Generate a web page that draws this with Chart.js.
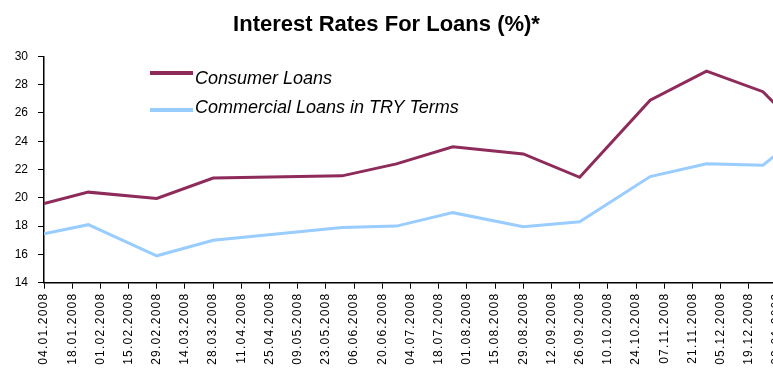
<!DOCTYPE html>
<html>
<head>
<meta charset="utf-8">
<script src="https://cdn.jsdelivr.net/npm/chart.js@4/dist/chart.umd.min.js"></script>
<style>
  html, body { margin: 0; padding: 0; background: #fff; overflow: hidden; }
  canvas { display: block; }
</style>
</head>
<body>
<canvas id="rates" width="773" height="368"></canvas>
<script>
// Fortnightly axis labels
const tickDates = [
  '04.01.2008', '18.01.2008', '01.02.2008', '15.02.2008', '29.02.2008', '14.03.2008',
  '28.03.2008', '11.04.2008', '25.04.2008', '09.05.2008', '23.05.2008', '06.06.2008',
  '20.06.2008', '04.07.2008', '18.07.2008', '01.08.2008', '15.08.2008', '29.08.2008',
  '12.09.2008', '26.09.2008', '10.10.2008', '24.10.2008', '07.11.2008', '21.11.2008',
  '05.12.2008', '19.12.2008', '02.01.2009'
];

// Observation dates
const pointDates = [
  '04.01.2008', '26.01.2008', '29.02.2008', '28.03.2008', '31.05.2008', '27.06.2008',
  '25.07.2008', '29.08.2008', '26.09.2008', '31.10.2008', '28.11.2008', '26.12.2008',
  '02.01.2009'
];

// Rates (%)
const consumerLoans = [19.6, 20.4, 19.95, 21.4, 21.55, 22.4, 23.6, 23.1, 21.45, 26.9, 28.95, 27.5, 26.5];
const commercialLoansTRY = [17.45, 18.1, 15.9, 17.0, 17.9, 18.0, 18.95, 17.95, 18.3, 21.5, 22.4, 22.3, 23.1];

const seriesNames = ['Consumer Loans', 'Commercial Loans in TRY Terms'];
const seriesColors = ['#8E2B5B', '#99CCFF'];

const yMin = 14, yMax = 30, yStep = 2;
const viewEnd = '31.12.2008';

const FONT = '"Liberation Sans", Arial, Helvetica, sans-serif';

// days elapsed since the first axis date
function dayOf(s) {
  const [d, m, y] = s.split('.').map(Number);
  const [d0, m0, y0] = tickDates[0].split('.').map(Number);
  return Math.round((Date.UTC(y, m - 1, d) - Date.UTC(y0, m0 - 1, d0)) / 86400000);
}

const labelForDay = new Map(tickDates.map(s => [dayOf(s), s]));

function toPoints(values) {
  return values.map((v, i) => ({ x: dayOf(pointDates[i]), y: v }));
}

// Legend drawn inside the plot, two stacked rows
const inlineLegend = {
  id: 'inlineLegend',
  afterDraw(chart, args, opts) {
    const ctx = chart.ctx;
    ctx.save();
    chart.data.datasets.forEach((ds, i) => {
      const row = opts.rows[i];
      ctx.strokeStyle = ds.borderColor;
      ctx.lineWidth = 4;
      ctx.lineCap = 'butt';
      ctx.beginPath();
      ctx.moveTo(opts.x, row.swatchY);
      ctx.lineTo(opts.x + opts.swatchWidth, row.swatchY);
      ctx.stroke();
      ctx.font = 'italic 18px ' + FONT;
      ctx.fillStyle = '#000';
      ctx.textAlign = 'left';
      ctx.textBaseline = 'alphabetic';
      ctx.fillText(ds.label, opts.x + opts.swatchWidth + 2, row.baseline);
    });
    ctx.restore();
  }
};

// Slightly open letter spacing for the date labels
const spacedDateLabels = {
  id: 'spacedDateLabels',
  afterLayout(chart, args, opts) {
    const scale = chart.scales.x;
    if (!scale || scale._spaced) return;
    const draw = scale.drawLabels;
    scale.drawLabels = function (area) {
      const ctx = this.ctx;
      ctx.save();
      ctx.letterSpacing = opts.spacing;
      draw.call(this, area);
      ctx.restore();
    };
    scale._spaced = true;
  }
};

new Chart(document.getElementById('rates'), {
  type: 'line',
  data: {
    datasets: [
      {
        label: seriesNames[0],
        data: toPoints(consumerLoans),
        borderColor: seriesColors[0],
        backgroundColor: seriesColors[0],
        borderWidth: 3,
        pointRadius: 0,
        tension: 0
      },
      {
        label: seriesNames[1],
        data: toPoints(commercialLoansTRY),
        borderColor: seriesColors[1],
        backgroundColor: seriesColors[1],
        borderWidth: 3,
        pointRadius: 0,
        tension: 0
      }
    ]
  },
  options: {
    responsive: false,
    animation: false,
    events: [],
    layout: { padding: 0 },
    plugins: {
      legend: { display: false },
      tooltip: { enabled: false },
      title: {
        display: true,
        text: 'Interest Rates For Loans (%)*',
        color: '#000',
        font: { family: FONT, size: 22, weight: 'bold' },
        padding: { top: 11.7, bottom: 18.2 }
      },
      inlineLegend: {
        x: 150,
        swatchWidth: 43,
        rows: [
          { swatchY: 73, baseline: 84 },
          { swatchY: 110, baseline: 112.5 }
        ]
      },
      spacedDateLabels: { spacing: '1.2px' }
    },
    scales: {
      x: {
        type: 'linear',
        min: 0,
        max: dayOf(viewEnd),
        afterBuildTicks(scale) {
          scale.ticks = tickDates.map(s => ({ value: dayOf(s) }));
        },
        afterFit(scale) {
          scale.height = 368 - 282.7;
          scale.paddingLeft = 0;
          scale.paddingRight = 0;
        },
        ticks: {
          autoSkip: false,
          minRotation: 90,
          maxRotation: 90,
          padding: 4,
          color: '#000',
          font: { family: FONT, size: 12 },
          callback: v => labelForDay.get(v) || ''
        },
        grid: {
          drawOnChartArea: false,
          drawTicks: true,
          tickLength: 6,
          color: '#000',
          lineWidth: 1
        },
        border: { display: true, color: '#000', width: 1.5 }
      },
      y: {
        min: yMin,
        max: yMax,
        afterFit(scale) {
          scale.width = 44;
        },
        ticks: {
          stepSize: yStep,
          padding: 10,
          color: '#000',
          font: { family: FONT, size: 12 }
        },
        grid: {
          drawOnChartArea: false,
          drawTicks: true,
          tickLength: 6,
          color: '#000',
          lineWidth: 1
        },
        border: { display: true, color: '#000', width: 1.5 }
      }
    }
  },
  plugins: [inlineLegend, spacedDateLabels]
});
</script>
</body>
</html>
